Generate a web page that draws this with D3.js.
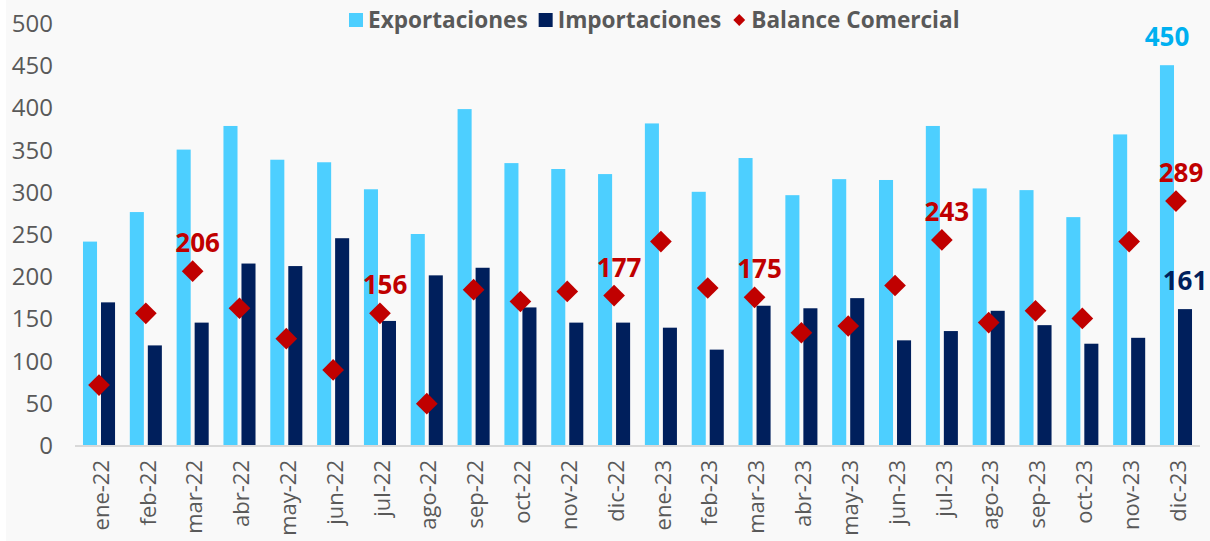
<!DOCTYPE html>
<html>
<head>
<meta charset="utf-8">
<script src="https://cdn.jsdelivr.net/npm/d3@7"></script>
<style>
  body { margin: 0; background: #ffffff; }
  svg { display: block; font-family: "Open Sans", sans-serif; }
</style>
</head>
<body>
<svg id="chart" width="1210" height="541"></svg>
<script>
// data
const months = ['ene-22', 'feb-22', 'mar-22', 'abr-22', 'may-22', 'jun-22', 'jul-22', 'ago-22',
    'sep-22', 'oct-22', 'nov-22', 'dic-22', 'ene-23', 'feb-23', 'mar-23', 'abr-23', 'may-23',
    'jun-23', 'jul-23', 'ago-23', 'sep-23', 'oct-23', 'nov-23', 'dic-23'];
const exportaciones = [241, 276, 350, 378, 338, 335, 303, 250, 398, 334, 327, 321,
    381, 300, 340, 296, 315, 314, 378, 304, 302, 270, 368, 450];
const importaciones = [169, 118, 145, 215, 212, 245, 147, 201, 210, 163, 145, 145,
    139, 113, 165, 162, 174, 124, 135, 159, 142, 120, 127, 161];
const balance = [71, 156, 206, 162, 126, 89, 156, 49, 184, 170, 182, 177,
    241, 186, 175, 133, 141, 189, 243, 145, 159, 150, 241, 289];
const yTicks = [0, 50, 100, 150, 200, 250, 300, 350, 400, 450, 500];
// which points carry a value label
const balanceLabelled = ['mar-22', 'jul-22', 'dic-22', 'mar-23', 'jul-23', 'dic-23'];
const exportLabelled = ['dic-23'];
const importLabelled = ['dic-23'];

const colExp = '#4dcfff', colImp = '#001f5c', colBal = '#c00000';
const textGrey = '#595959';

let svg = d3.select('#chart');

// background panel
svg.append('rect').attr('x', 6).attr('y', 0).attr('width', 1204).attr('height', 541)
    .attr('fill', '#f9f9f9');

let x0 = d3.scaleBand().domain(months).range([75.6, 1199.4]);
let x1 = d3.scaleBand().domain(['exp', 'imp']).range([0, x0.bandwidth()])
    .paddingInner(0.22).paddingOuter(0.41);
let y = d3.scaleLinear().domain([0, 500]).range([445, 23]);

// y axis labels
let yAxis = svg.append('g').attr('transform', 'translate(53,0)')
    .call(d3.axisLeft(y).tickValues(yTicks).tickSize(0).tickPadding(0));
yAxis.select('.domain').remove();
yAxis.selectAll('text').attr('font-size', 24).attr('fill', textGrey)
    .attr('font-family', '"Open Sans", sans-serif').attr('dy', '0.35em');

let rows = months.map(function(m, i){
    return {month: m, exp: exportaciones[i], imp: importaciones[i], bal: balance[i]};
});

// bars
let groups = svg.append('g').selectAll('g').data(rows).enter().append('g')
    .attr('transform', function(d){ return `translate(${x0(d.month)},0)`; });

groups.append('rect')
    .attr('x', x1('exp')).attr('width', x1.bandwidth())
    .attr('y', function(d){ return y(d.exp); })
    .attr('height', function(d){ return y(0) - y(d.exp); })
    .attr('fill', colExp);

groups.append('rect')
    .attr('x', x1('imp')).attr('width', x1.bandwidth())
    .attr('y', function(d){ return y(d.imp); })
    .attr('height', function(d){ return y(0) - y(d.imp); })
    .attr('fill', colImp);

// baseline
svg.append('line').attr('x1', 75).attr('x2', 1200).attr('y1', y(0) + 1).attr('y2', y(0) + 1)
    .attr('stroke', '#d9d9d9').attr('stroke-width', 2);

// x axis labels (rotated)
let xAxis = svg.append('g').attr('transform', `translate(0,${y(0)})`)
    .call(d3.axisBottom(x0).tickSize(0).tickPadding(0));
xAxis.select('.domain').remove();
xAxis.selectAll('text')
    .attr('font-size', 22).attr('fill', textGrey)
    .attr('font-family', '"Open Sans", sans-serif')
    .attr('text-anchor', 'end')
    .attr('transform', 'rotate(-90)')
    .attr('x', -15).attr('y', 2).attr('dy', '0.35em');

// balance diamonds
let diamond = d3.symbol().type(d3.symbolDiamond2).size(300);
svg.append('g').selectAll('path').data(rows).enter().append('path')
    .attr('d', diamond)
    .attr('transform', function(d){
        return `translate(${x0(d.month) + x0.bandwidth() / 2},${y(d.bal)})`;
    })
    .attr('fill', colBal);

// value labels
function addLabels(list, key, color, xOff){
    svg.append('g').selectAll('text').data(rows.filter(function(d){ return list.includes(d.month); }))
        .enter().append('text')
        .attr('x', function(d){ return x0(d.month) + xOff; })
        .attr('y', function(d){ return y(d[key]) - 19; })
        .attr('text-anchor', 'middle')
        .attr('font-size', 26).attr('font-weight', 'bold')
        .attr('fill', color)
        .text(function(d){ return d[key]; });
}
addLabels(balanceLabelled, 'bal', colBal, x0.bandwidth() / 2 + 5);
addLabels(exportLabelled, 'exp', '#00b0f0', x1('exp') + x1.bandwidth() / 2);
addLabels(importLabelled, 'imp', colImp, x1('imp') + x1.bandwidth() / 2);

// legend
let legend = svg.append('g').attr('transform', 'translate(349,20)');
let items = [
    {name: 'Exportaciones', color: colExp, type: 'square'},
    {name: 'Importaciones', color: colImp, type: 'square'},
    {name: 'Balance Comercial', color: colBal, type: 'diamond'}
];
let lx = 0;
items.forEach(function(it){
    if (it.type === 'square'){
        legend.append('rect').attr('x', lx).attr('y', -7).attr('width', 14).attr('height', 14)
            .attr('fill', it.color);
    } else {
        legend.append('path').attr('d', d3.symbol().type(d3.symbolDiamond2).size(90))
            .attr('transform', `translate(${lx + 7},0)`).attr('fill', it.color);
    }
    let t = legend.append('text').attr('x', lx + 19).attr('y', 0).attr('dy', '0.35em')
        .attr('font-size', 22.6).attr('font-weight', 'bold').attr('fill', textGrey)
        .text(it.name);
    lx += 19 + t.node().getComputedTextLength() + 11;
});
</script>
</body>
</html>
